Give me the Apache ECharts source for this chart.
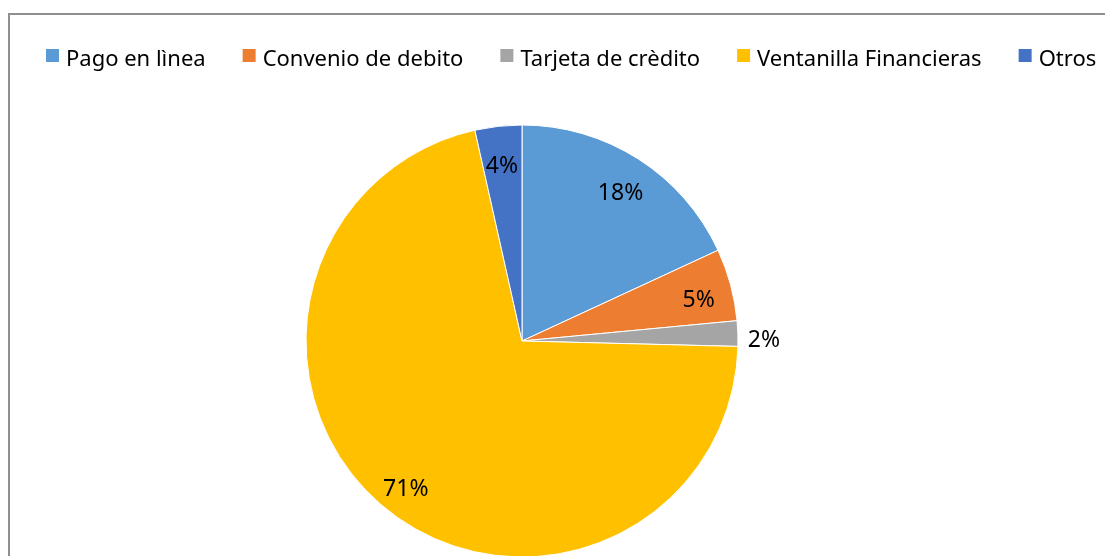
<!DOCTYPE html>
<html>
<head>
<meta charset="utf-8">
<script src="https://cdn.jsdelivr.net/npm/echarts@6/dist/echarts.min.js"></script>
<style>
  html, body { margin: 0; padding: 0; background: #fff; }
  #chart { width: 1105px; height: 556px; }
</style>
</head>
<body>
<div id="chart"></div>
<script>
// datos del grafico
var categorias = ['Pago en lìnea', 'Convenio de debito', 'Tarjeta de crèdito', 'Ventanilla Financieras', 'Otros'];
var valores = [18.1, 5.4, 1.9, 71.1, 3.5];
var colores = ['#5B9BD5', '#ED7D31', '#A5A5A5', '#FFC000', '#4472C4'];

var fuente = '"Noto Sans", sans-serif';
var chart = echarts.init(document.getElementById('chart'), null, { renderer: 'canvas' });

var sliceData = categorias.map(function (c, i) {
    return { name: c, value: valores[i], itemStyle: { color: colores[i] } };
});

// anillo transparente solo para ubicar las etiquetas (como "mejor ajuste" de Excel)
var labelData = categorias.map(function (c, i) {
    var d = { name: c, value: valores[i], itemStyle: { color: 'rgba(0,0,0,0)' } };
    if (valores[i] < 3) {
        d.label = { position: 'outside' };
    }
    return d;
});

var option = {
    backgroundColor: '#fff',
    animation: false,
    graphic: [{
        type: 'rect',
        shape: { x: 9, y: 14, width: 1120, height: 600 },
        style: { fill: 'none', stroke: '#8f8f8f', lineWidth: 2 },
        silent: true
    }],
    legend: {
        left: 44,
        top: 40,
        padding: 0,
        icon: 'rect',
        itemWidth: 15,
        itemHeight: 15,
        itemGap: 35,
        formatter: function (name) { return '{t|' + name + '}'; },
        textStyle: {
            fontFamily: fuente, fontSize: 22, color: '#000',
            rich: { t: { fontFamily: fuente, fontSize: 22, color: '#000', lineHeight: 22, padding: [9, 0, 0, 1] } }
        },
        data: categorias
    },
    series: [{
        name: 'Medios',
        type: 'pie',
        center: [522, 341],
        radius: [0, 216],
        startAngle: 90,
        clockwise: true,
        silent: true,
        label: { show: false },
        labelLine: { show: false },
        itemStyle: { borderColor: '#fff', borderWidth: 1 },
        data: sliceData
    }, {
        name: 'Etiquetas',
        type: 'pie',
        center: [522, 341],
        radius: [144, 216],
        startAngle: 90,
        clockwise: true,
        silent: true,
        avoidLabelOverlap: false,
        label: {
            show: true,
            position: 'inside',
            color: '#000',
            formatter: function (p) { return '{p|' + Math.round(p.percent) + '%}'; },
            rich: { p: { fontFamily: fuente, fontSize: 23, color: '#000', lineHeight: 23, padding: [14, 0, 0, 0] } }
        },
        labelLine: { show: false, length: 5, length2: 0 },
        data: labelData
    }]
};
chart.setOption(option);
</script>
</body>
</html>
